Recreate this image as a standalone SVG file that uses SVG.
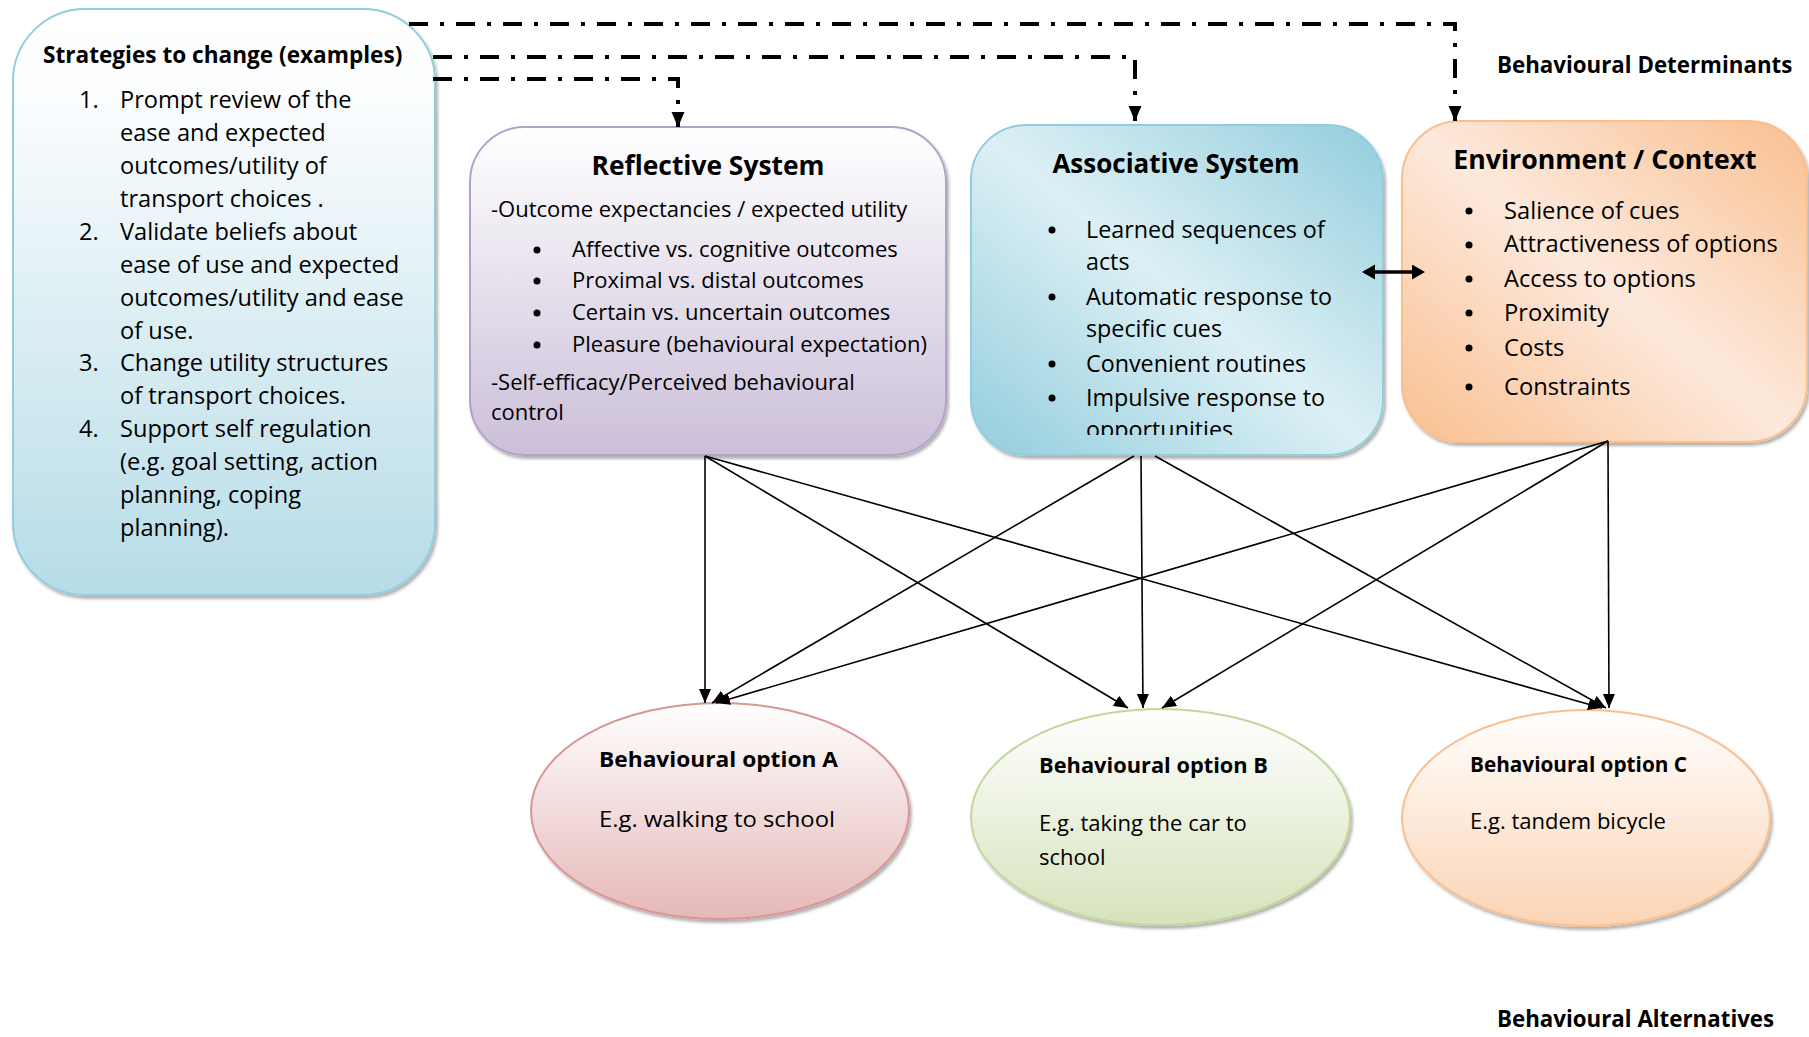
<svg xmlns="http://www.w3.org/2000/svg" width="1809" height="1037" viewBox="0 0 1809 1037">
<defs>
<style>
text { font-family: "Open Sans", "Liberation Sans", sans-serif; fill: #000; }
.s { font-size: 23.6px; }
.r { font-size: 22px; }
.a { font-size: 23.3px; }
.e { font-size: 23.7px; }
.o { font-size: 22px; }
.b { font-weight: bold; }
.dd { fill: none; stroke: #000; stroke-width: 4; stroke-dasharray: 19 12 4 12; marker-end: url(#dah); }
.sl { fill: none; stroke: #000; stroke-width: 1.6; marker-end: url(#ah); }
.dot { fill: #000; }
</style>
<linearGradient id="gS" x1="0" y1="0" x2="0" y2="1">
<stop offset="0" stop-color="#ffffff"/><stop offset="0.15" stop-color="#fbfdfe"/><stop offset="1" stop-color="#b6dce7"/>
</linearGradient>
<linearGradient id="gR" x1="0" y1="0" x2="0" y2="1">
<stop offset="0" stop-color="#ffffff"/><stop offset="1" stop-color="#cbbfd9"/>
</linearGradient>
<linearGradient id="gA" x1="1" y1="0" x2="0" y2="1">
<stop offset="0" stop-color="#93cddd"/><stop offset="0.5" stop-color="#dcf0f5"/><stop offset="1" stop-color="#93cddd"/>
</linearGradient>
<linearGradient id="gE" x1="1" y1="0" x2="0" y2="1">
<stop offset="0" stop-color="#f9bf8f"/><stop offset="0.5" stop-color="#fde9dc"/><stop offset="1" stop-color="#f9bf8f"/>
</linearGradient>
<linearGradient id="gOA" x1="0" y1="0" x2="0" y2="1">
<stop offset="0" stop-color="#ffffff"/><stop offset="1" stop-color="#e5b8b7"/>
</linearGradient>
<linearGradient id="gOB" x1="0" y1="0" x2="0" y2="1">
<stop offset="0" stop-color="#ffffff"/><stop offset="1" stop-color="#d6e3bc"/>
</linearGradient>
<linearGradient id="gOC" x1="0" y1="0" x2="0" y2="1">
<stop offset="0" stop-color="#ffffff"/><stop offset="1" stop-color="#fbd4b4"/>
</linearGradient>
<filter id="sh" x="-5%" y="-5%" width="112%" height="115%">
<feDropShadow dx="2" dy="3" stdDeviation="1.5" flood-color="#000" flood-opacity="0.3"/>
</filter>
<clipPath id="clipA"><rect x="971" y="125" width="412" height="310"/></clipPath>
<marker id="ah" markerUnits="userSpaceOnUse" markerWidth="15" markerHeight="13" refX="14" refY="6" orient="auto">
<path d="M0,0 L14,6 L0,12 z" fill="#000"/>
</marker>
<marker id="dah" markerUnits="userSpaceOnUse" markerWidth="16" markerHeight="14" refX="15" refY="6.5" orient="auto">
<path d="M0,0 L15,6.5 L0,13 z" fill="#000"/>
</marker>
<marker id="bah" markerUnits="userSpaceOnUse" markerWidth="14" markerHeight="16" refX="4" refY="7.5" orient="auto-start-reverse">
<path d="M0,0 L13,7.5 L0,15 z" fill="#000"/>
</marker>
</defs>
<rect width="1809" height="1037" fill="#ffffff"/>

<g id="strategies">
<rect x="13" y="9" width="422" height="586" rx="72" fill="url(#gS)" stroke="#92cddc" stroke-width="2" filter="url(#sh)"/>
<text class="b" x="43" y="63" font-size="22.6">Strategies to change (examples)</text>
<text class="s" x="79" y="108">1.</text>
<text class="s" x="120" y="108">Prompt review of the</text>
<text class="s" x="120" y="141">ease and expected</text>
<text class="s" x="120" y="174">outcomes/utility of</text>
<text class="s" x="120" y="207">transport choices .</text>
<text class="s" x="79" y="240">2.</text>
<text class="s" x="120" y="240">Validate beliefs about</text>
<text class="s" x="120" y="272.5">ease of use and expected</text>
<text class="s" x="120" y="305.5">outcomes/utility and ease</text>
<text class="s" x="120" y="338.5">of use.</text>
<text class="s" x="79" y="371">3.</text>
<text class="s" x="120" y="371">Change utility structures</text>
<text class="s" x="120" y="404">of transport choices.</text>
<text class="s" x="79" y="437">4.</text>
<text class="s" x="120" y="437">Support self regulation</text>
<text class="s" x="120" y="470">(e.g. goal setting, action</text>
<text class="s" x="120" y="503">planning, coping</text>
<text class="s" x="120" y="536">planning).</text>
</g>

<g id="reflective">
<rect x="470" y="127" width="476" height="328" rx="55" fill="url(#gR)" stroke="#b3a2c7" stroke-width="2" filter="url(#sh)"/>
<text class="b" x="708" y="175" text-anchor="middle" font-size="26.4">Reflective System</text>
<text class="r" x="491" y="217">-Outcome expectancies / expected utility</text>
<circle class="dot" cx="537" cy="250" r="3.5"/>
<text class="r" x="572" y="257">Affective vs. cognitive outcomes</text>
<circle class="dot" cx="537" cy="281" r="3.5"/>
<text class="r" x="572" y="288">Proximal vs. distal outcomes</text>
<circle class="dot" cx="537" cy="313" r="3.5"/>
<text class="r" x="572" y="320">Certain vs. uncertain outcomes</text>
<circle class="dot" cx="537" cy="345" r="3.5"/>
<text class="r" x="572" y="352">Pleasure (behavioural expectation)</text>
<text class="r" x="491" y="390">-Self-efficacy/Perceived behavioural</text>
<text class="r" x="491" y="420">control</text>
</g>

<g id="associative">
<rect x="971" y="125" width="412" height="330" rx="55" fill="url(#gA)" stroke="#93cddd" stroke-width="2" filter="url(#sh)"/>
<text class="b" x="1176" y="173" text-anchor="middle" font-size="26">Associative System</text>
<g clip-path="url(#clipA)">
<circle class="dot" cx="1052" cy="230" r="3.5"/>
<text class="a" x="1086" y="238">Learned sequences of</text>
<text class="a" x="1086" y="270">acts</text>
<circle class="dot" cx="1052" cy="297" r="3.5"/>
<text class="a" x="1086" y="305">Automatic response to</text>
<text class="a" x="1086" y="337">specific cues</text>
<circle class="dot" cx="1052" cy="364" r="3.5"/>
<text class="a" x="1086" y="372">Convenient routines</text>
<circle class="dot" cx="1052" cy="398" r="3.5"/>
<text class="a" x="1086" y="406">Impulsive response to</text>
<text class="a" x="1086" y="438">opportunities</text>
</g>
</g>

<g id="environment">
<rect x="1402" y="121" width="405" height="321" rx="58" fill="url(#gE)" stroke="#f9bf8f" stroke-width="2" filter="url(#sh)"/>
<text class="b" x="1605" y="169" text-anchor="middle" font-size="26.7">Environment / Context</text>
<circle class="dot" cx="1469" cy="211" r="3.5"/>
<text class="e" x="1504" y="219">Salience of cues</text>
<circle class="dot" cx="1469" cy="245" r="3.5"/>
<text class="e" x="1504" y="252">Attractiveness of options</text>
<circle class="dot" cx="1469" cy="279" r="3.5"/>
<text class="e" x="1504" y="287">Access to options</text>
<circle class="dot" cx="1469" cy="313" r="3.5"/>
<text class="e" x="1504" y="321">Proximity</text>
<circle class="dot" cx="1469" cy="348" r="3.5"/>
<text class="e" x="1504" y="356">Costs</text>
<circle class="dot" cx="1469" cy="387" r="3.5"/>
<text class="e" x="1504" y="395">Constraints</text>
</g>

<g id="optionA">
<ellipse cx="720" cy="811" rx="189" ry="108" fill="url(#gOA)" stroke="#d99694" stroke-width="2" filter="url(#sh)"/>
<text class="o b" x="599" y="767" textLength="239" lengthAdjust="spacingAndGlyphs">Behavioural option A</text>
<text class="o" x="599" y="827" textLength="236" lengthAdjust="spacingAndGlyphs">E.g. walking to school</text>
</g>

<g id="optionB">
<ellipse cx="1160.5" cy="817" rx="189.5" ry="108" fill="url(#gOB)" stroke="#c3d69b" stroke-width="2" filter="url(#sh)"/>
<text class="o b" x="1039" y="773" textLength="229" lengthAdjust="spacingAndGlyphs">Behavioural option B</text>
<text class="o" x="1039" y="831">E.g. taking the car to</text>
<text class="o" x="1039" y="865">school</text>
</g>

<g id="optionC">
<ellipse cx="1586" cy="818" rx="184" ry="108" fill="url(#gOC)" stroke="#f9bf8f" stroke-width="2" filter="url(#sh)"/>
<text class="o b" x="1470" y="772" textLength="217" lengthAdjust="spacingAndGlyphs">Behavioural option C</text>
<text class="o" x="1470" y="829">E.g. tandem bicycle</text>
</g>

<g id="labels">
<text class="b" x="1497" y="73" font-size="22.3">Behavioural Determinants</text>
<text class="b" x="1497" y="1027" font-size="22.3">Behavioural Alternatives</text>
</g>

<g id="connectors">
<path class="dd" d="M409,24 H1455 V121"/>
<path class="dd" d="M433,57 H1135 V121"/>
<path class="dd" d="M433,79 H678 V127"/>
<line x1="1371" y1="272" x2="1416" y2="272" stroke="#000" stroke-width="3.5" marker-start="url(#bah)" marker-end="url(#bah)"/>
<path class="sl" d="M705,456 L705,703"/>
<path class="sl" d="M705,456 L1128,708"/>
<path class="sl" d="M705,456 L1602,708"/>
<path class="sl" d="M1134,456 L712,703"/>
<path class="sl" d="M1141,456 L1143,708"/>
<path class="sl" d="M1155,456 L1606,708"/>
<path class="sl" d="M1608,441 L716,703"/>
<path class="sl" d="M1608,441 L1162,708"/>
<path class="sl" d="M1608,441 L1609,708"/>
</g>
</svg>
